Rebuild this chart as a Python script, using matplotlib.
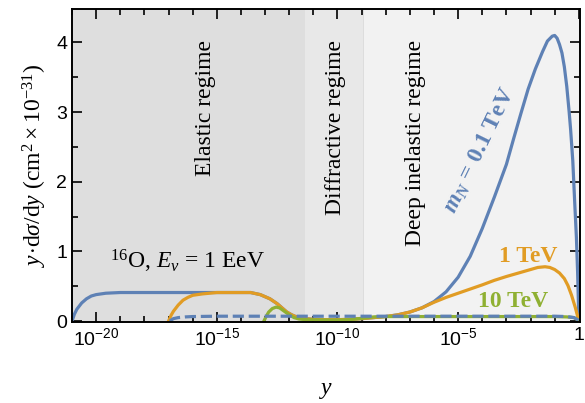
import numpy as np
import matplotlib
matplotlib.use("Agg")
import matplotlib.pyplot as plt
from matplotlib.ticker import FixedLocator, FuncFormatter, NullFormatter, MultipleLocator

plt.rcParams['font.family'] = 'Liberation Serif'
plt.rcParams['mathtext.fontset'] = 'custom'
plt.rcParams['mathtext.rm'] = 'Liberation Serif'
plt.rcParams['mathtext.it'] = 'Liberation Serif:italic'
plt.rcParams['mathtext.bf'] = 'Liberation Serif:bold'
plt.rcParams['mathtext.bfit'] = 'Liberation Serif:italic:bold'

# curves (x given as log10 y)
lx_01 = [-21.0, -20.9, -20.8, -20.6, -20.4, -20.2, -20.0, -19.6, -19.0, -17.0, -15.0,
         -13.6, -13.2, -12.8, -12.5, -12.3, -12.1, -11.9, -11.7, -11.5, -11.0, -10.5,
         -10.0, -9.5, -9.0, -8.5, -8.0, -7.5, -7.0, -6.5, -6.0, -5.5, -5.0, -4.5,
         -4.0, -3.5, -3.0, -2.7, -2.4, -2.1, -1.8, -1.5, -1.3, -1.1, -1.0, -0.9,
         -0.8, -0.7, -0.6, -0.5, -0.4, -0.34, -0.25, -0.17, -0.1, -0.05, -0.02, 0.0]
v_01 = [0.0, 0.10, 0.17, 0.26, 0.32, 0.36, 0.38, 0.40, 0.41, 0.41, 0.41,
        0.41, 0.38, 0.32, 0.25, 0.19, 0.13, 0.09, 0.06, 0.04, 0.025, 0.02,
        0.02, 0.025, 0.035, 0.05, 0.065, 0.09, 0.13, 0.19, 0.28, 0.42, 0.63, 0.93,
        1.33, 1.78, 2.25, 2.62, 2.98, 3.33, 3.62, 3.87, 4.02, 4.09, 4.10, 4.06,
        3.97, 3.85, 3.65, 3.37, 3.0, 2.75, 2.3, 1.7, 1.2, 0.7, 0.3, 0.0]

lx_1 = [-17.0, -16.9, -16.8, -16.6, -16.4, -16.2, -16.0, -15.6, -15.0, -13.6, -13.2,
        -12.8, -12.5, -12.3, -12.1, -11.9, -11.7, -11.5, -11.0, -10.5, -10.0, -9.5,
        -9.0, -8.5, -8.0, -7.5, -7.0, -6.5, -6.0, -5.5, -5.0, -4.5, -4.0, -3.5,
        -3.0, -2.5, -2.0, -1.7, -1.4, -1.2, -1.0, -0.8, -0.6, -0.45, -0.3, -0.15,
        -0.05, 0.0]
v_1 = [0.0, 0.08, 0.14, 0.23, 0.30, 0.34, 0.37, 0.39, 0.41, 0.41, 0.38,
       0.32, 0.25, 0.19, 0.13, 0.09, 0.06, 0.04, 0.025, 0.02, 0.02, 0.025,
       0.035, 0.05, 0.065, 0.09, 0.13, 0.19, 0.27, 0.34, 0.40, 0.46, 0.52, 0.585,
       0.64, 0.69, 0.74, 0.77, 0.78, 0.77, 0.74, 0.69, 0.61, 0.51, 0.37, 0.20,
       0.07, 0.0]

lx_10 = [-13.05, -12.95, -12.85, -12.7, -12.55, -12.4, -12.2, -12.0, -11.8, -11.6,
         -11.3, -10.5, -10.0, -9.5, -9.0, -8.5, -8.0, -4.0, -1.0, -0.5, -0.2, -0.05, 0.0]
v_10 = [0.0, 0.07, 0.13, 0.18, 0.20, 0.19, 0.14, 0.09, 0.05, 0.03,
        0.02, 0.015, 0.015, 0.02, 0.04, 0.06, 0.065, 0.065, 0.065, 0.06, 0.05, 0.02, 0.0]

lx_bg = [-16.95, -16.8, -16.6, -16.3, -16.0, -15.0, -1.0, -0.5, -0.2, -0.05, 0.0]
v_bg = [0.0, 0.035, 0.05, 0.06, 0.065, 0.07, 0.07, 0.065, 0.05, 0.02, 0.0]

# regime borders (log10 y)
b_elastic = -11.33
b_diffr = -8.93

blue = '#5E81B5'
orange = '#E19C24'
green = '#8FB032'

fig = plt.figure(figsize=(5.85, 4.03), dpi=100)
ax = fig.add_axes([0.1231, 0.1998, 0.8684, 0.7779])

ax.axvspan(1e-21, 10**b_elastic, color='#dedede', lw=0)
ax.axvspan(10**b_elastic, 10**b_diffr, color='#e8e8e8', lw=0)
ax.axvspan(10**b_diffr, 10**0.1, color='#f2f2f2', lw=0)
ax.axvline(10**b_diffr, color='#d9d9d9', lw=0.6)

lw = 2.3
ax.plot(10**np.array(lx_01), v_01, color=blue, lw=lw)
ax.plot(10**np.array(lx_1), v_1, color=orange, lw=lw)
ax.plot(10**np.array(lx_10), v_10, color=green, lw=lw)
ax.plot(10**np.array(lx_bg), v_bg, color=blue, lw=lw, dashes=(3.5, 1.5))

ax.set_xscale('log')
ax.set_xlim(1e-21, 10**0.05)
ax.set_ylim(-0.02, 4.48)

ax.xaxis.set_major_locator(FixedLocator(10.0**np.arange(-20, 1, 5)))
ax.xaxis.set_minor_locator(FixedLocator(10.0**np.arange(-21, 1)))
ax.xaxis.set_minor_formatter(NullFormatter())
ax.xaxis.set_major_formatter(FuncFormatter(
    lambda v, p: '1' if abs(np.log10(v)) < 0.01 else r'$\mathdefault{10^{%d}}$' % round(np.log10(v))))
ax.yaxis.set_major_locator(MultipleLocator(1))
ax.yaxis.set_minor_locator(MultipleLocator(0.5))

ax.tick_params(which='both', direction='in', top=True, right=True, width=1.2)
ax.tick_params(which='major', length=7, labelsize=14)
ax.tick_params(which='minor', length=4)
for lab in ax.get_xticklabels() + ax.get_yticklabels():
    lab.set_fontfamily('Liberation Sans')
for s in ax.spines.values():
    s.set_linewidth(1.4)

ax.set_xlabel(r'$y$', fontsize=17, labelpad=22)
ax.set_ylabel(r'$y\!\cdot\!$d$\sigma$/d$y$ (cm$^2\times10^{-31}$)', fontsize=17, labelpad=5)

ax.text(10**-15.48, 4.04, 'Elastic regime', rotation=90, ha='center', va='top', fontsize=17)
ax.text(10**-10.09, 4.04, 'Diffractive regime', rotation=90, ha='center', va='top', fontsize=17)
ax.text(10**-6.77, 4.04, 'Deep inelastic regime', rotation=90, ha='center', va='top', fontsize=17)
ax.text(10**-16.23, 0.85, r'$^{16}$O, $E_\nu$ = 1 EeV', ha='center', va='center', fontsize=17)

ax.text(10**-4.1, 2.45, r'$\mathbfit{m}_{\mathbfit{N}}$ = 0.1 TeV', rotation=64, ha='center', va='center',
        fontsize=17, fontweight='bold', color=blue, rotation_mode='anchor')
ax.text(10**-2.1, 0.93, '1 TeV', ha='center', va='center', fontsize=17, fontweight='bold', color=orange)
ax.text(10**-2.74, 0.28, '10 TeV', ha='center', va='center', fontsize=17, fontweight='bold', color=green)

fig.savefig('out.png', dpi=100)
